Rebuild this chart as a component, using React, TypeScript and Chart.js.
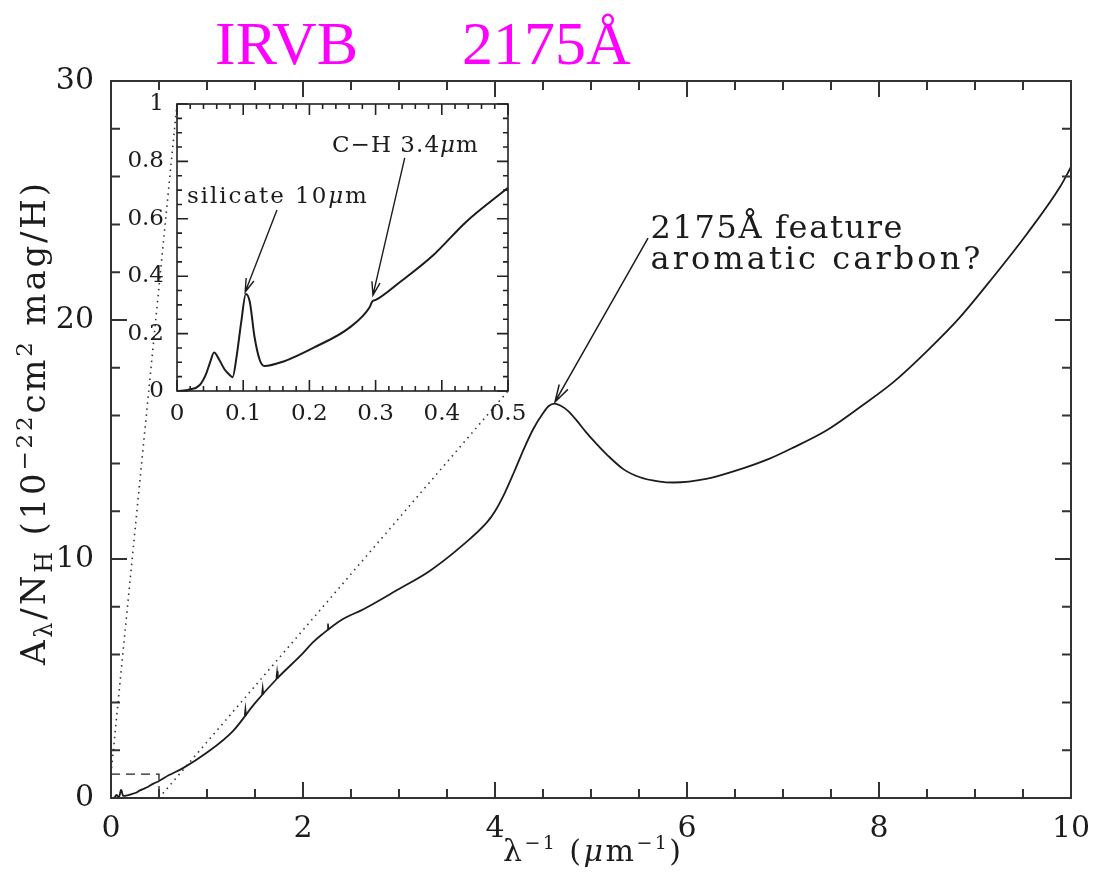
import React, { useEffect, useRef } from 'react';
import { Chart, registerables } from 'chart.js';

Chart.register(...registerables);

// ---------------- data ----------------
// infrared part (λ⁻¹ = 0 … 0.5 µm⁻¹): shown in the inset and at the start of the main curve
const irWave = [0, 0.019, 0.034, 0.044, 0.05, 0.056, 0.064, 0.072, 0.08, 0.084, 0.09, 0.097, 0.104, 0.11, 0.117, 0.125, 0.132, 0.16, 0.21, 0.26, 0.291, 0.295, 0.301, 0.336, 0.387, 0.437, 0.5];
const irExt = [0, 0.005, 0.02, 0.06, 0.1, 0.134, 0.108, 0.075, 0.055, 0.048, 0.12, 0.24, 0.338, 0.31, 0.19, 0.108, 0.087, 0.102, 0.155, 0.22, 0.292, 0.312, 0.318, 0.378, 0.473, 0.59, 0.708];
// optical – ultraviolet part (λ⁻¹ = 0.6 … 10 µm⁻¹)
const uvWave = [0.6, 0.75, 1.0, 1.27, 1.5, 1.73, 2.0, 2.1, 2.2, 2.4, 2.63, 2.98, 3.32, 3.67, 3.92, 4.0, 4.1, 4.2, 4.3, 4.4, 4.5, 4.56, 4.62, 4.68, 4.76, 4.85, 4.95, 5.05, 5.17, 5.34, 5.51, 5.7, 5.86, 6.2, 6.55, 6.86, 7.1, 7.46, 7.8, 8.15, 8.5, 8.84, 9.19, 9.54, 9.89, 10];
const uvExt = [0.95, 1.25, 1.9, 2.8, 3.97, 5.0, 6.06, 6.5, 6.85, 7.45, 7.9, 8.7, 9.5, 10.6, 11.55, 12.0, 12.75, 13.65, 14.6, 15.45, 16.1, 16.4, 16.5, 16.42, 16.2, 15.8, 15.3, 14.85, 14.35, 13.75, 13.42, 13.25, 13.2, 13.35, 13.75, 14.2, 14.65, 15.4, 16.35, 17.4, 18.7, 20.1, 21.8, 23.6, 25.6, 26.4];
// small diffuse-band spikes on the optical part
const bandWave = [1.4, 1.58, 1.73, 2.26];
const bandBase = [3.45, 4.33, 5.0, 7.05];
const bandTop = [3.75, 4.62, 5.3, 7.3];

// axis ranges / tick steps
const mainX = { min: 0, max: 10, major: 2, minor: 0.5 };
const mainY = { min: 0, max: 30, major: 10, minor: 2 };
const insetX = { min: 0, max: 0.5, major: 0.1, minor: 0.02 };
const insetY = { min: 0, max: 1, major: 0.2, minor: 0.05 };

// texts
const titleWords = ['IRVB', '2175Å'];
const featureLines = ['2175Å feature', 'aromatic carbon?'];
const silicateLabel = 'silicate 10';
const chLabel = 'C−H 3.4';

// ---------------- layout (not data) ----------------
const W = 1096;
const H = 872;
const FONT = "'DejaVu Serif', serif";
const INK = '#1c1c1c';
// inset box, in the main panel's data coordinates
const INSET = { x0: 0.6875, x1: 4.135, y0: 17.03, y1: 29.04 };
const IN_PAD = { l: 70, r: 24, t: 18, b: 40 };
const SPIKE_HALF = 0.008;

type Seg = { t: string; size: number; dy?: number; italic?: boolean };

function drawRich(ctx: CanvasRenderingContext2D, segs: Seg[], x: number, y: number, target?: number) {
  const f = (s: Seg) => `${s.italic ? 'italic ' : ''}${s.size}px ${FONT}`;
  let nat = 0;
  let n = 0;
  for (const s of segs) {
    ctx.font = f(s);
    for (const ch of Array.from(s.t)) {
      nat += ctx.measureText(ch).width;
      n++;
    }
  }
  const sp = target ? (target - nat) / Math.max(1, n - 1) : 0;
  let cx = x;
  for (const s of segs) {
    ctx.font = f(s);
    for (const ch of Array.from(s.t)) {
      ctx.fillText(ch, cx, y + (s.dy || 0));
      cx += ctx.measureText(ch).width + sp;
    }
  }
}

function arrow(ctx: CanvasRenderingContext2D, x1: number, y1: number, x2: number, y2: number, head = 17, ang = 0.3) {
  const a = Math.atan2(y2 - y1, x2 - x1);
  ctx.beginPath();
  ctx.moveTo(x1, y1);
  ctx.lineTo(x2, y2);
  ctx.moveTo(x2 - head * Math.cos(a - ang), y2 - head * Math.sin(a - ang));
  ctx.lineTo(x2, y2);
  ctx.lineTo(x2 - head * Math.cos(a + ang), y2 - head * Math.sin(a + ang));
  ctx.stroke();
}

const frameTicks = {
  id: 'frameTicks',
  afterDatasetsDraw(chart: any, _args: any, o: any) {
    const { ctx, chartArea } = chart;
    const { left, right, top, bottom } = chartArea;
    const sx = chart.scales.x;
    const sy = chart.scales.y;
    ctx.save();
    ctx.strokeStyle = o.color;
    ctx.lineWidth = o.width;
    ctx.beginPath();
    const nx = Math.round((o.xr.max - o.xr.min) / o.xr.minor);
    for (let i = 0; i <= nx; i++) {
      const v = o.xr.min + i * o.xr.minor;
      const r = v / o.xr.major;
      const L = Math.abs(r - Math.round(r)) < 1e-6 ? o.majorLen : o.minorLen;
      const px = sx.getPixelForValue(v);
      ctx.moveTo(px, bottom);
      ctx.lineTo(px, bottom - L);
      ctx.moveTo(px, top);
      ctx.lineTo(px, top + L);
    }
    const ny = Math.round((o.yr.max - o.yr.min) / o.yr.minor);
    for (let i = 0; i <= ny; i++) {
      const v = o.yr.min + i * o.yr.minor;
      const r = v / o.yr.major;
      const L = Math.abs(r - Math.round(r)) < 1e-6 ? o.majorLen : o.minorLen;
      const py = sy.getPixelForValue(v);
      ctx.moveTo(left, py);
      ctx.lineTo(left + L, py);
      ctx.moveTo(right, py);
      ctx.lineTo(right - L, py);
    }
    ctx.stroke();
    ctx.strokeRect(left, top, right - left, bottom - top);
    ctx.restore();
  },
};

const fmt = (v: any) => String(Math.round(Number(v) * 100) / 100);
const fixX = (hgt: number) => (s: any) => {
  s.height = hgt;
  s.paddingLeft = 0;
  s.paddingRight = 0;
  s.paddingTop = 0;
  s.paddingBottom = 0;
};
const fixY = (wid: number) => (s: any) => {
  s.width = wid;
  s.paddingLeft = 0;
  s.paddingRight = 0;
  s.paddingTop = 0;
  s.paddingBottom = 0;
};

export default function App() {
  const mainRef = useRef<HTMLCanvasElement>(null);
  const insetRef = useRef<HTMLCanvasElement>(null);

  useEffect(() => {
    document.body.style.margin = '0';
    document.body.style.overflow = 'hidden';

    const mainData = irWave.map((x, i) => ({ x, y: irExt[i] })).concat(uvWave.map((x, i) => ({ x, y: uvExt[i] })));
    const spikeSets = bandWave.map((x, i) => ({
      data: [
        { x: x - SPIKE_HALF, y: bandBase[i] },
        { x, y: bandTop[i] },
        { x: x + SPIKE_HALF, y: bandBase[i] },
      ],
      borderColor: INK,
      borderWidth: 1.5,
      pointRadius: 0,
      tension: 0,
    }));

    const mainNotes = {
      id: 'mainNotes',
      afterDraw(chart: any) {
        const { ctx } = chart;
        const sx = chart.scales.x;
        const sy = chart.scales.y;
        ctx.save();
        // title
        ctx.fillStyle = '#ff00ff';
        ctx.font = "62px 'Liberation Serif', serif";
        ctx.textBaseline = 'alphabetic';
        ctx.textAlign = 'left';
        ctx.fillText(titleWords[0], 215, 64);
        ctx.fillText(titleWords[1], 462, 64);
        // feature annotation
        ctx.fillStyle = INK;
        ctx.strokeStyle = INK;
        ctx.lineWidth = 1.5;
        arrow(ctx, sx.getPixelForValue(5.594), sy.getPixelForValue(23.43), sx.getPixelForValue(4.625), sy.getPixelForValue(16.57), 18, 0.28);
        drawRich(ctx, [{ t: featureLines[0], size: 32 }], sx.getPixelForValue(5.62), sy.getPixelForValue(23.43), 252);
        drawRich(ctx, [{ t: featureLines[1], size: 32 }], sx.getPixelForValue(5.62), sy.getPixelForValue(22.15), 330);
        // x title
        drawRich(
          ctx,
          [
            { t: 'λ', size: 30 },
            { t: '−1', size: 19, dy: -12 },
            { t: ' (', size: 30 },
            { t: 'μ', size: 30, italic: true },
            { t: 'm', size: 30 },
            { t: '−1', size: 19, dy: -12 },
            { t: ')', size: 30 },
          ],
          503,
          861,
          178
        );
        // y title (rotated)
        ctx.translate(45, 665);
        ctx.rotate(-Math.PI / 2);
        drawRich(
          ctx,
          [
            { t: 'A', size: 34 },
            { t: 'λ', size: 24, dy: 7 },
            { t: '/N', size: 34 },
            { t: 'H', size: 24, dy: 7 },
            { t: ' (10', size: 34 },
            { t: '−22', size: 23, dy: -13 },
            { t: 'cm', size: 34 },
            { t: '2', size: 23, dy: -13 },
            { t: ' mag/H)', size: 34 },
          ],
          0,
          0,
          482
        );
        ctx.restore();
      },
    };

    const main = new Chart(mainRef.current as HTMLCanvasElement, {
      type: 'line',
      data: {
        datasets: [
          { data: mainData, borderColor: INK, borderWidth: 1.8, pointRadius: 0, cubicInterpolationMode: 'monotone' } as any,
          ...spikeSets,
          { data: [{ x: 0, y: 1 }, { x: 0.5, y: 1 }, { x: 0.5, y: 0 }], borderColor: '#222', borderWidth: 1.3, borderDash: [9, 6], pointRadius: 0 },
          { data: [{ x: 0, y: 1 }, { x: INSET.x0, y: INSET.y1 }], borderColor: '#333', borderWidth: 1.6, borderDash: [1.5, 4.5], pointRadius: 0 },
          { data: [{ x: 0.5, y: 0 }, { x: INSET.x1, y: INSET.y0 }], borderColor: '#333', borderWidth: 1.6, borderDash: [1.5, 4.5], pointRadius: 0 },
        ],
      },
      options: {
        responsive: false,
        animation: false,
        devicePixelRatio: 1,
        events: [],
        layout: { padding: { left: 0, right: 25, top: 81, bottom: 0 } },
        plugins: {
          legend: { display: false },
          tooltip: { enabled: false },
          frameTicks: { color: '#333', width: 2, majorLen: 16, minorLen: 9, xr: mainX, yr: mainY },
        } as any,
        scales: {
          x: {
            type: 'linear',
            min: mainX.min,
            max: mainX.max,
            grid: { display: false, drawTicks: false },
            border: { display: false },
            afterFit: fixX(74),
            ticks: { stepSize: mainX.major, padding: 13, color: INK, font: { family: FONT, size: 30 }, callback: fmt, maxRotation: 0 },
          },
          y: {
            type: 'linear',
            min: mainY.min,
            max: mainY.max,
            grid: { display: false, drawTicks: false },
            border: { display: false },
            afterFit: fixY(111),
            ticks: { stepSize: mainY.major, padding: 17, color: INK, font: { family: FONT, size: 30 }, callback: fmt },
          },
        },
      },
      plugins: [frameTicks as any, mainNotes as any],
    });

    // position the inset from the main panel's scales
    const msx = main.scales.x;
    const msy = main.scales.y;
    const bl = Math.round(msx.getPixelForValue(INSET.x0));
    const br = Math.round(msx.getPixelForValue(INSET.x1));
    const bt = Math.round(msy.getPixelForValue(INSET.y1));
    const bb = Math.round(msy.getPixelForValue(INSET.y0));
    const c = insetRef.current as HTMLCanvasElement;
    const w = br - bl + IN_PAD.l + IN_PAD.r;
    const h = bb - bt + IN_PAD.t + IN_PAD.b;
    c.width = w;
    c.height = h;
    c.style.left = `${bl - IN_PAD.l}px`;
    c.style.top = `${bt - IN_PAD.t}px`;
    c.style.width = `${w}px`;
    c.style.height = `${h}px`;

    const insetNotes = {
      id: 'insetNotes',
      afterDraw(chart: any) {
        const { ctx } = chart;
        const sx = chart.scales.x;
        const sy = chart.scales.y;
        ctx.save();
        ctx.fillStyle = INK;
        ctx.strokeStyle = INK;
        ctx.lineWidth = 1.4;
        drawRich(
          ctx,
          [
            { t: silicateLabel, size: 23 },
            { t: 'μ', size: 23, italic: true },
            { t: 'm', size: 23 },
          ],
          sx.getPixelForValue(0.015),
          sy.getPixelForValue(0.655),
          180
        );
        arrow(ctx, sx.getPixelForValue(0.151), sy.getPixelForValue(0.631), sx.getPixelForValue(0.103), sy.getPixelForValue(0.345), 14, 0.3);
        drawRich(
          ctx,
          [
            { t: chLabel, size: 23 },
            { t: 'μ', size: 23, italic: true },
            { t: 'm', size: 23 },
          ],
          sx.getPixelForValue(0.234),
          sy.getPixelForValue(0.833),
          146
        );
        arrow(ctx, sx.getPixelForValue(0.344), sy.getPixelForValue(0.812), sx.getPixelForValue(0.296), sy.getPixelForValue(0.334), 14, 0.3);
        ctx.restore();
      },
    };

    const inset = new Chart(c, {
      type: 'line',
      data: {
        datasets: [
          { data: irWave.map((x, i) => ({ x, y: irExt[i] })), borderColor: INK, borderWidth: 2, pointRadius: 0, cubicInterpolationMode: 'monotone' } as any,
        ],
      },
      options: {
        responsive: false,
        animation: false,
        devicePixelRatio: 1,
        events: [],
        layout: { padding: { left: 0, right: IN_PAD.r, top: IN_PAD.t, bottom: 0 } },
        plugins: {
          legend: { display: false },
          tooltip: { enabled: false },
          frameTicks: { color: '#222', width: 1.6, majorLen: 11, minorLen: 5, xr: insetX, yr: insetY },
        } as any,
        scales: {
          x: {
            type: 'linear',
            min: insetX.min,
            max: insetX.max,
            grid: { display: false, drawTicks: false },
            border: { display: false },
            afterFit: fixX(IN_PAD.b),
            ticks: { stepSize: insetX.major, padding: 9, color: INK, font: { family: FONT, size: 23 }, callback: fmt, maxRotation: 0 },
          },
          y: {
            type: 'linear',
            min: insetY.min,
            max: insetY.max,
            grid: { display: false, drawTicks: false },
            border: { display: false },
            afterFit: fixY(IN_PAD.l),
            ticks: { stepSize: insetY.major, padding: 13, color: INK, font: { family: FONT, size: 23 }, callback: fmt },
          },
        },
      },
      plugins: [frameTicks as any, insetNotes as any],
    });

    return () => {
      inset.destroy();
      main.destroy();
    };
  }, []);

  return (
    <div style={{ position: 'relative', width: W, height: H, background: '#fff', overflow: 'hidden' }}>
      <canvas ref={mainRef} width={W} height={H} style={{ position: 'absolute', left: 0, top: 0 }} />
      <canvas ref={insetRef} style={{ position: 'absolute', left: 0, top: 0 }} />
    </div>
  );
}
